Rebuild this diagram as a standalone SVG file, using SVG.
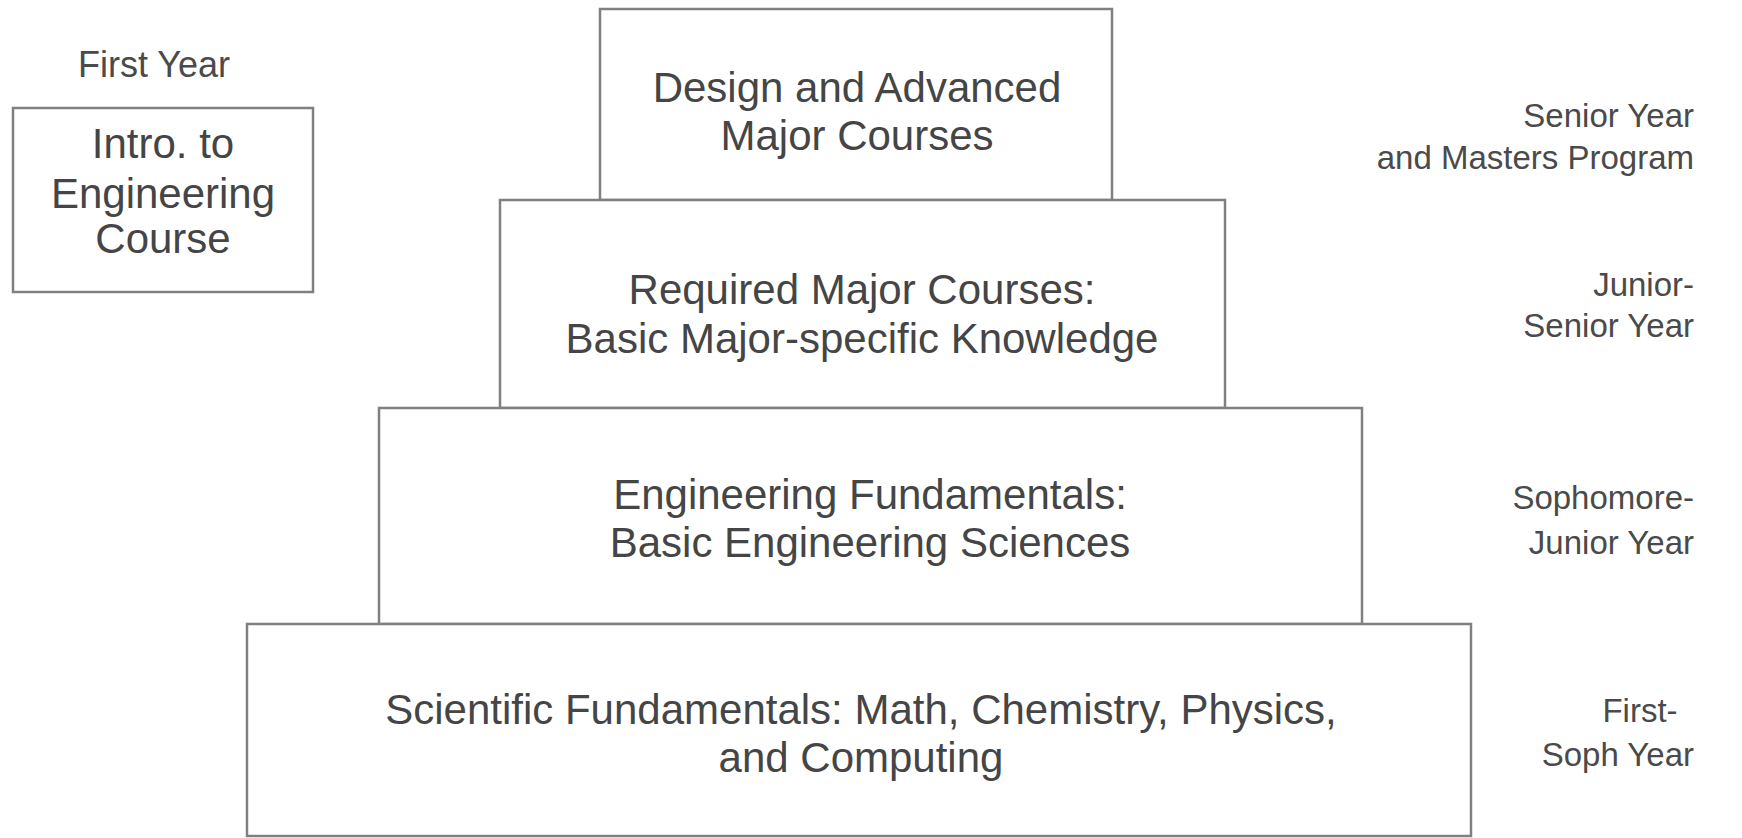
<svg xmlns="http://www.w3.org/2000/svg" width="1742" height="838" viewBox="0 0 1742 838">
<style>
.box{fill:#ffffff;stroke:#808080;stroke-width:2.5}
.t{font-family:"Liberation Sans",Arial,sans-serif;fill:#454545;text-anchor:middle;font-size:42px}
.side{font-family:"Liberation Sans",Arial,sans-serif;fill:#4a4a4a;text-anchor:end;font-size:33px}
.top{font-family:"Liberation Sans",Arial,sans-serif;fill:#4a4a4a;text-anchor:middle;font-size:36px}
</style>
<rect width="1742" height="838" fill="#ffffff"/>
<g id="connectors"></g>
<g id="first-year-label"><text class="top" x="154" y="77">First Year</text></g>
<g id="intro">
<rect class="box" x="13" y="108" width="300" height="184"/>
<text class="t" x="163" y="158">Intro. to</text>
<text class="t" x="163" y="208">Engineering</text>
<text class="t" x="163" y="253">Course</text>
</g>
<g id="design">
<rect class="box" x="600" y="9" width="512" height="191"/>
<text class="t" x="857" y="102">Design and Advanced</text>
<text class="t" x="857" y="150">Major Courses</text>
</g>
<g id="required">
<rect class="box" x="500" y="200" width="725" height="208"/>
<text class="t" x="862" y="304">Required Major Courses:</text>
<text class="t" x="862" y="353">Basic Major-specific Knowledge</text>
</g>
<g id="engfund">
<rect class="box" x="379" y="408" width="983" height="216"/>
<text class="t" x="870" y="509">Engineering Fundamentals:</text>
<text class="t" x="870" y="557">Basic Engineering Sciences</text>
</g>
<g id="scifund">
<rect class="box" x="247" y="624" width="1224" height="212"/>
<text class="t" x="861" y="724">Scientific Fundamentals: Math, Chemistry, Physics,</text>
<text class="t" x="861" y="772">and Computing</text>
</g>
<g id="label-senior">
<text class="side" x="1694" y="127">Senior Year</text>
<text class="side" x="1694" y="169">and Masters Program</text>
</g>
<g id="label-junior">
<text class="side" x="1694" y="296">Junior-</text>
<text class="side" x="1694" y="337">Senior Year</text>
</g>
<g id="label-soph">
<text class="side" x="1694" y="509">Sophomore-</text>
<text class="side" x="1694" y="554">Junior Year</text>
</g>
<g id="label-first">
<text class="side" style="text-anchor:middle" x="1640" y="722">First-</text>
<text class="side" x="1694" y="766">Soph Year</text>
</g>
</svg>
